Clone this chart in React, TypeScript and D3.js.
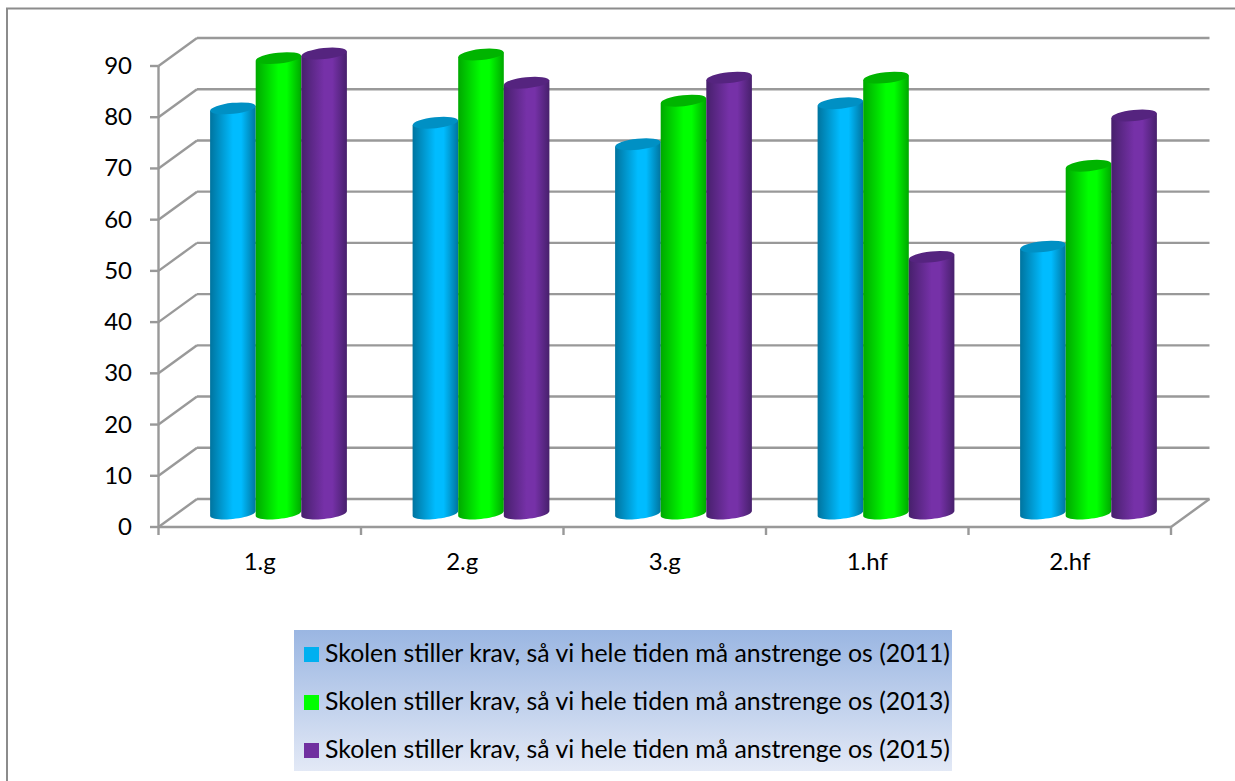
import React from "react";
import * as d3 from "d3";

const categories = ["1.g", "2.g", "3.g", "1.hf", "2.hf"];
const values2011 = [79, 76.2, 72, 80, 52];
const values2013 = [88.8, 89.5, 80.5, 85, 67.8];
const values2015 = [89.7, 84, 85, 50, 77.6];
const yTicks = [0, 10, 20, 30, 40, 50, 60, 70, 80, 90];
const seriesNames = [
  "Skolen stiller krav, så vi hele tiden må anstrenge os (2011)",
  "Skolen stiller krav, så vi hele tiden må anstrenge os (2013)",
  "Skolen stiller krav, så vi hele tiden må anstrenge os (2015)",
];
const seriesValues = [values2011, values2013, values2015];
const seriesColors = [
  { id: "b", top: "#0090c4", edge: "#00749f", mid: "#00bcff", base: "#00b0f0" },
  { id: "g", top: "#00b400", edge: "#00a800", mid: "#00ff00", base: "#00ff00" },
  { id: "p", top: "#55247f", edge: "#47206c", mid: "#7631a8", base: "#7030a0" },
];

const FONT = "Lato, Carlito, Calibri, sans-serif";
const GRID = "#999999";

const x = d3.scaleBand<string>().domain(categories).range([158.5, 1171]);
const y = d3.scaleLinear().domain([0, 90]).range([527, 66]);
const DEPTH_X = 38.5;
const DEPTH_Y = -28;
const BAR_W = 45.6;
const RY = 5.5;
const TILT = (-6 * Math.PI) / 180;

const line = d3.line();

function barSide(cx: number, yTop: number, yBase: number, rx: number) {
  // lower half of the tilted bottom ellipse, from its left end to its right end
  const arc = d3.range(0, 25).map((k) => {
    const a = Math.PI - (k / 24) * Math.PI;
    const ex = rx * Math.cos(a);
    const ey = RY * Math.sin(a);
    return [
      cx + ex,
      yBase + ex * Math.sin(TILT) + ey * Math.cos(TILT),
    ] as [number, number];
  });
  const dy = rx * Math.sin(TILT);
  const pts: [number, number][] = [
    [cx - rx, yTop - dy],
    ...arc,
    [cx + rx, yTop + dy],
  ];
  return (line(pts) as string) + "Z";
}

export default function App() {
  const right = x.range()[1];
  const left = x.range()[0];
  const xEdges = [...categories.map((c) => x(c) as number), right];
  const step = x.bandwidth();

  return (
    <svg
      width={1235}
      height={781}
      style={{ position: "absolute", left: 0, top: 0, background: "#fff", fontFamily: FONT }}
    >
      <defs>
        {seriesColors.map((c) => (
          <linearGradient key={c.id} id={`side-${c.id}`} x1="0" x2="1" y1="0" y2="0">
            <stop offset="0" stopColor={c.edge} />
            <stop offset="0.5" stopColor={c.mid} />
            <stop offset="0.68" stopColor={c.mid} />
            <stop offset="1" stopColor={c.edge} />
          </linearGradient>
        ))}
        <linearGradient id="legend-bg" x1="0" x2="0" y1="0" y2="1">
          <stop offset="0" stopColor="#9ab6e2" />
          <stop offset="1" stopColor="#e3e9f6" />
        </linearGradient>
      </defs>

      <path d="M7 781V8.5H1235" fill="none" stroke="#8c8c8c" strokeWidth={2} />

      {yTicks.map((t) => (
        <g key={t} stroke={GRID} strokeWidth={2.4} fill="none">
          <line x1={150} x2={left} y1={y(t)} y2={y(t)} />
          <line x1={left} y1={y(t)} x2={left + DEPTH_X} y2={y(t) + DEPTH_Y} />
          <line x1={left + DEPTH_X} x2={right + DEPTH_X} y1={y(t) + DEPTH_Y} y2={y(t) + DEPTH_Y} />
        </g>
      ))}
      <line x1={left} x2={left} y1={y(90)} y2={y(0)} stroke={GRID} strokeWidth={2.4} />
      <line x1={left} x2={right} y1={y(0)} y2={y(0)} stroke={GRID} strokeWidth={2.4} />
      <line x1={right} y1={y(0)} x2={right + DEPTH_X} y2={y(0) + DEPTH_Y} stroke={GRID} strokeWidth={2.4} />
      {xEdges.map((e) => (
        <line key={e} x1={e} x2={e} y1={y(0)} y2={535} stroke={GRID} strokeWidth={2.4} />
      ))}

      {yTicks.map((t) => (
        <text key={t} x={132} y={y(t) + 8} textAnchor="end" fontSize={24} fill="#000">
          {t}
        </text>
      ))}
      {categories.map((c) => (
        <text key={c} x={(x(c) as number) + step / 2} y={570} textAnchor="middle" fontSize={24} fill="#000">
          {c}
        </text>
      ))}

      {categories.map((c, i) =>
        seriesValues.map((vals, s) => {
          const col = seriesColors[s];
          const cx = (x(c) as number) + step / 2 + DEPTH_X / 2 - 0.5 + (s - 1) * BAR_W;
          const yBase = y(0) + DEPTH_Y / 2 + 0.5;
          const yTop = y(vals[i]) + DEPTH_Y / 2;
          const rx = BAR_W / 2;
          return (
            <g key={c + s}>
              <path d={barSide(cx, yTop, yBase, rx)} fill={`url(#side-${col.id})`} />
              <ellipse
                cx={cx}
                cy={yTop}
                rx={rx}
                ry={RY}
                transform={`rotate(-6 ${cx} ${yTop})`}
                fill={col.top}
              />
            </g>
          );
        })
      )}

      <rect x={294} y={630} width={658} height={141} fill="url(#legend-bg)" />
      {seriesNames.map((n, i) => (
        <g key={n}>
          <rect x={304} y={647 + i * 48} width={15} height={15} fill={seriesColors[i].base} />
          <text x={325} y={662 + i * 48} fontSize={25} fill="#000" textLength={625} lengthAdjust="spacingAndGlyphs">
            {n}
          </text>
        </g>
      ))}
    </svg>
  );
}
